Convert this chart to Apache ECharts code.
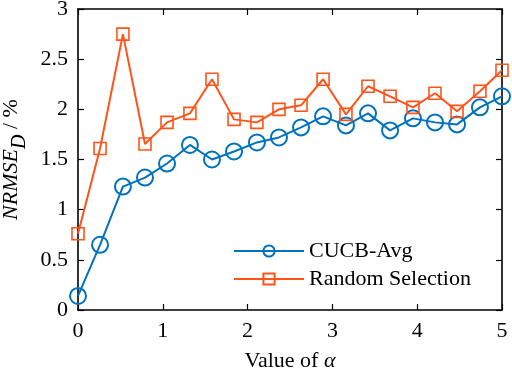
<!DOCTYPE html>
<html>
<head>
<meta charset="utf-8">
<script src="https://cdn.jsdelivr.net/npm/echarts@6/dist/echarts.min.js"></script>
<style>
  html, body { margin: 0; padding: 0; background: #fff; }
  #chart { width: 512px; height: 371px; }
</style>
</head>
<body>
<div id="chart"></div>
<script>
// alpha values (x) and NRMSE_D values
var alphaVals = [0, 0.26, 0.53, 0.79, 1.05, 1.32, 1.58, 1.84, 2.11, 2.37,
                 2.63, 2.89, 3.16, 3.42, 3.68, 3.95, 4.21, 4.47, 4.74, 5];
var cucbAvg = [0.14, 0.65, 1.23, 1.32, 1.46, 1.645, 1.50, 1.58, 1.67, 1.72,
               1.82, 1.93, 1.84, 1.96, 1.79, 1.91, 1.87, 1.85, 2.02, 2.13];
var randomSel = [0.76, 1.61, 2.75, 1.655, 1.87, 1.96, 2.30, 1.90, 1.87, 2.00,
                 2.04, 2.30, 1.95, 2.23, 2.13, 2.02, 2.16, 1.98, 2.18, 2.39];
var xTicks = [0, 1, 2, 3, 4, 5];
var yTicks = [0, 0.5, 1, 1.5, 2, 2.5, 3];

var blue = '#0072BD';
var orange = '#FF5319';
var font = 'Liberation Serif';

function pairs(ys) {
  return alphaVals.map(function (x, i) { return [x, ys[i]]; });
}

var chart = echarts.init(document.getElementById('chart'));

var axisLine = { show: true, onZero: false, lineStyle: { color: '#000', width: 1.6 } };
var tick = { show: true, inside: true, length: 6, lineStyle: { color: '#000', width: 1.2 } };

var option = {
  animation: false,
  grid: { left: 78, right: 10, top: 9, bottom: 61, containLabel: false, outerBoundsMode: 'none' },
  xAxis: [{
    type: 'value',
    min: xTicks[0], max: xTicks[xTicks.length - 1], interval: 1,
    axisLine: axisLine, axisTick: tick,
    splitLine: { show: false },
    axisLabel: { color: '#000', fontFamily: font, fontSize: 22, margin: 10 },
    name: '{n|Value of }{i|α}',
    nameLocation: 'middle', nameGap: 40,
    nameTextStyle: {
      rich: {
        n: { fontFamily: font, fontSize: 22, color: '#000' },
        i: { fontFamily: font, fontSize: 22, fontStyle: 'italic', color: '#000' }
      }
    }
  }, {
    type: 'value', position: 'top',
    min: xTicks[0], max: xTicks[xTicks.length - 1], interval: 1,
    axisLine: axisLine, axisTick: tick,
    axisLabel: { show: false }, splitLine: { show: false }
  }],
  yAxis: [{
    type: 'value',
    min: yTicks[0], max: yTicks[yTicks.length - 1], interval: 0.5,
    axisLine: axisLine, axisTick: tick,
    splitLine: { show: false },
    axisLabel: { color: '#000', fontFamily: font, fontSize: 22, margin: 10 },
    name: '{i|NRMSE}{s|D}{n| / %}',
    nameLocation: 'middle', nameGap: 48, nameRotate: 90,
    nameTextStyle: {
      rich: {
        i: { fontFamily: font, fontSize: 22, fontStyle: 'italic', color: '#000', lineHeight: 36, verticalAlign: 'middle' },
        s: { fontFamily: font, fontSize: 20, fontStyle: 'italic', color: '#000', lineHeight: 16, verticalAlign: 'bottom' },
        n: { fontFamily: font, fontSize: 22, color: '#000', lineHeight: 36, verticalAlign: 'middle' }
      }
    }
  }, {
    type: 'value', position: 'right',
    min: yTicks[0], max: yTicks[yTicks.length - 1], interval: 0.5,
    axisLine: axisLine, axisTick: tick,
    axisLabel: { show: false }, splitLine: { show: false }
  }],
  legend: {
    orient: 'vertical',
    left: 233, top: 240, padding: 0,
    itemWidth: 70, itemHeight: 14, itemGap: 6,
    textStyle: { fontFamily: font, fontSize: 22, color: '#000', lineHeight: 22 },
    data: ['CUCB-Avg', 'Random Selection']
  },
  series: [{
    name: 'CUCB-Avg',
    type: 'line',
    data: pairs(cucbAvg),
    symbol: 'circle', symbolSize: 16,
    lineStyle: { color: blue, width: 2 },
    itemStyle: { color: 'rgba(255,255,255,0)', borderColor: blue, borderWidth: 2 }
  }, {
    name: 'Random Selection',
    type: 'line',
    data: pairs(randomSel),
    symbol: 'rect', symbolSize: 12,
    lineStyle: { color: orange, width: 2 },
    itemStyle: { color: 'rgba(255,255,255,0)', borderColor: orange, borderWidth: 1.6 }
  }]
};

chart.setOption(option);
</script>
</body>
</html>
